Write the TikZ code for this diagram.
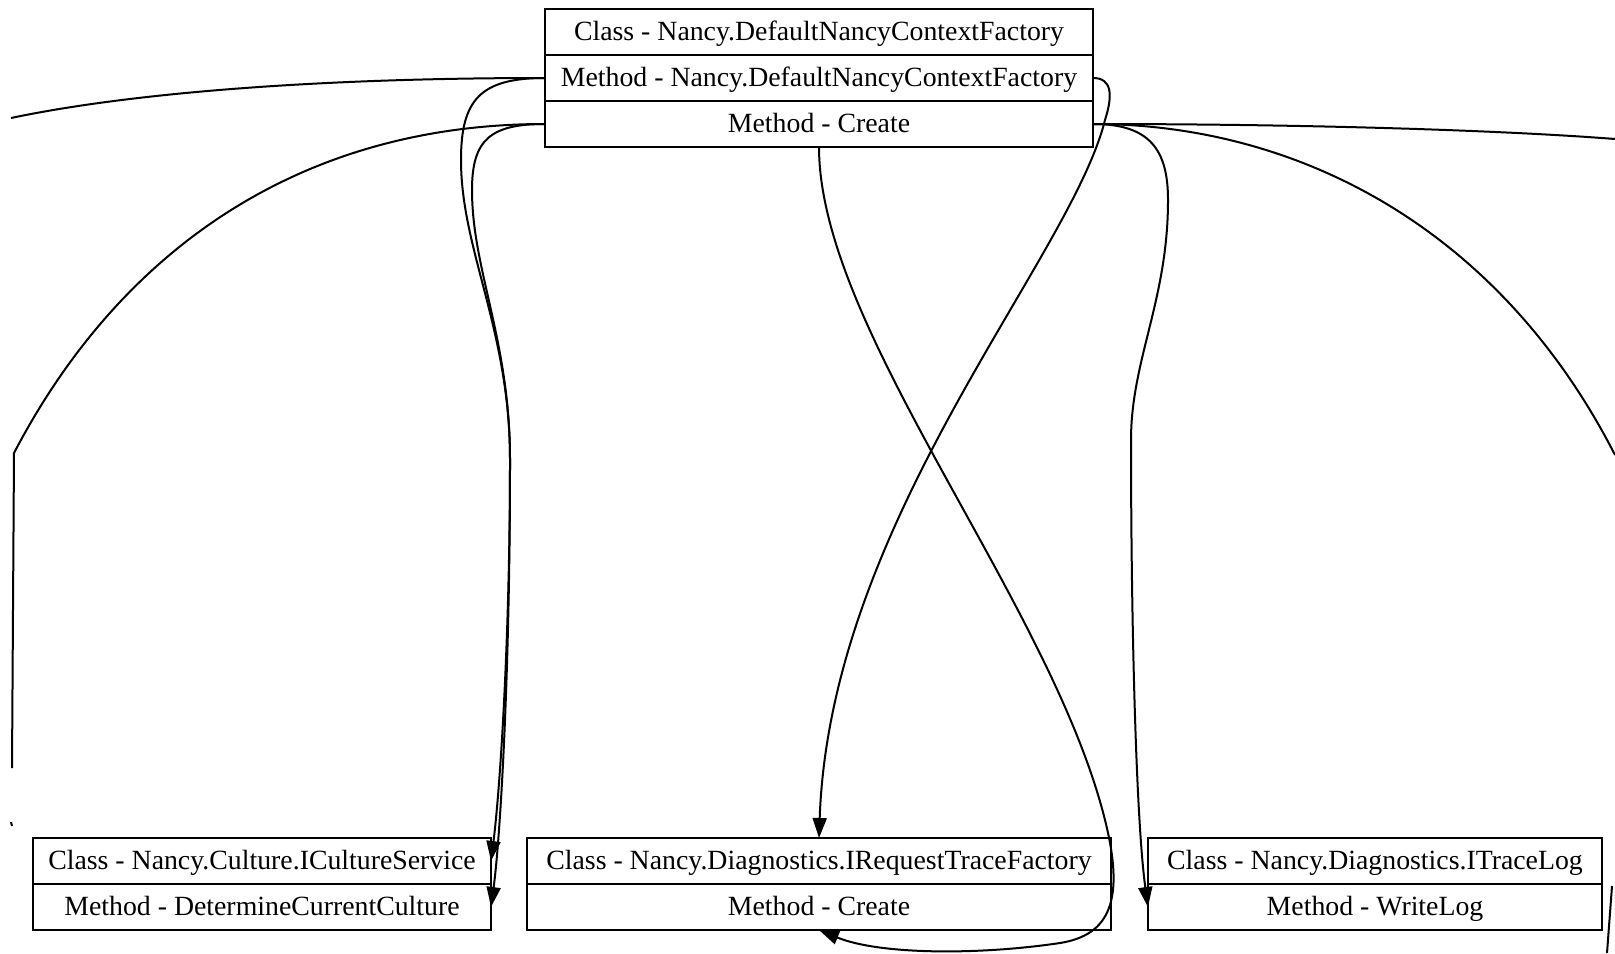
\documentclass[tikz,border=0pt]{standalone}
\usepackage{fontspec}
\setmainfont{Liberation Serif}
\usetikzlibrary{positioning,arrows.meta}
\tikzset{
  rowbox/.style={draw, line width=1pt, inner sep=0pt, outer sep=0pt, minimum height=23pt,
    text height=10.4pt, text depth=2.1pt, font=\fontsize{13.9}{16.7}\selectfont},
  >={Triangle[length=10pt,width=7pt]}
}
\begin{document}
\begin{tikzpicture}[x=0.5pt,y=-0.5pt,line width=1pt]
\useasboundingbox (0,0) rectangle (1615,953);
\node[rowbox, minimum width=274pt] (f1) at (819,32) {Class - Nancy.DefaultNancyContextFactory};
\node[rowbox, minimum width=274pt, below=0pt of f1] (f2) {Method - Nancy.DefaultNancyContextFactory};
\node[rowbox, minimum width=274pt, below=0pt of f2] (f3) {Method - Create};

\node[rowbox, minimum width=229pt] (c1) at (262,861) {Class - Nancy.Culture.ICultureService};
\node[rowbox, minimum width=229pt, below=0pt of c1] (c2) {Method - DetermineCurrentCulture};

\node[rowbox, minimum width=292pt] (r1) at (819,861) {Class - Nancy.Diagnostics.IRequestTraceFactory};
\node[rowbox, minimum width=292pt, below=0pt of r1] (r2) {Method - Create};

\node[rowbox, minimum width=227pt] (t1) at (1375,861) {Class - Nancy.Diagnostics.ITraceLog};
\node[rowbox, minimum width=227pt, below=0pt of t1] (t2) {Method - WriteLog};

\coordinate (lcut1) at (11,118);
\coordinate (lcut2) at (12,768);
\coordinate (lcut3) at (11,822);
\coordinate (lcut4) at (12,826);
\coordinate (rcut1) at (1615,139);
\coordinate (rcut2) at (1615,455);
\coordinate (rcut3) at (1612,886);
\coordinate (rcut4) at (1607,953);

\draw (f2.west) .. controls (300,78) and (120,95) .. (lcut1);
\draw (f3.west) .. controls (300,124) and (120,250) .. (14,453) -- (lcut2);
\draw (lcut3) -- (lcut4);

\draw[->] (f2.west) .. controls (480,78) and (461,100) .. (461,160) .. controls (461,250) and (510,330) .. (510,460) .. controls (510,640) and (500,790) .. (c1.east);
\draw[->] (f3.west) .. controls (490,124) and (472,140) .. (472,190) .. controls (472,270) and (510,340) .. (510,460) .. controls (510,680) and (500,840) .. (c2.east);

\draw[->] (f2.east) .. controls (1112,78) and (1113,95) .. (1105,120) .. controls (1070,260) and (830,520) .. (r1.north);
\draw[->] (f3.south) .. controls (819,330) and (1050,600) .. (1105,820) .. controls (1125,900) and (1110,935) .. (1060,943) .. controls (980,955) and (880,955) .. (r2.south);
\draw[->] (f3.east) .. controls (1150,124) and (1168,150) .. (1168,200) .. controls (1168,300) and (1131,360) .. (1131,440) .. controls (1131,620) and (1136,820) .. (t2.west);

\draw (f3.east) .. controls (1300,124) and (1500,130) .. (rcut1);
\draw (f3.east) .. controls (1300,124) and (1500,230) .. (rcut2);
\draw (rcut3) -- (rcut4);
\end{tikzpicture}
\end{document}
